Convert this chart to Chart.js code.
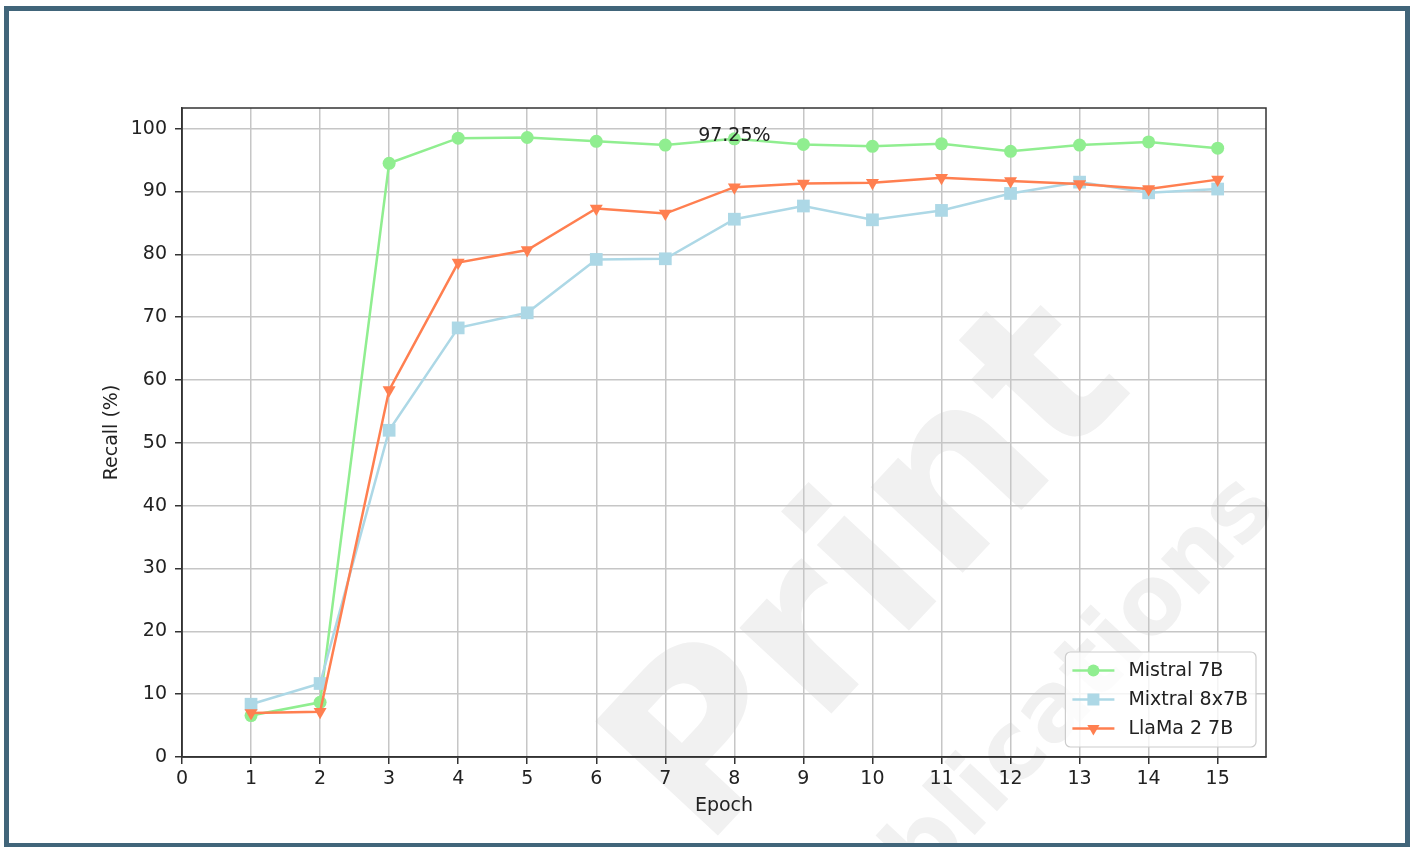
<!DOCTYPE html>
<html lang="en">
<head>
    <meta charset="UTF-8">
    <title>Recall per Epoch</title>
    <script src="https://cdn.jsdelivr.net/npm/chart.js"></script>
    <style>
        html, body { margin: 0; padding: 0; background: #fff; }
        body {
            width: 1413px;
            height: 847px;
            position: relative;
            overflow: hidden;
            font-family: 'DejaVu Sans', sans-serif;
        }
        /* faint publisher watermark behind the chart */
        .mark {
            position: absolute;
            transform: translate(-50%, -50%) rotate(-47deg);
            font-weight: bold;
            color: #f1f1f1;
            white-space: nowrap;
            line-height: 1;
        }
        #chartBox { position: absolute; left: 0; top: 0; }
        #frame {
            position: absolute;
            left: 4px;
            top: 6px;
            width: 1396px;
            height: 832px;
            border: 5px solid #41657a;
            pointer-events: none;
        }
    </style>
</head>
<body>
    <div class="mark" style="left:862px; top:565px; font-size:230px;">Print</div>
    <div class="mark" style="left:1030px; top:728px; font-size:95px;">Publications</div>
    <div id="chartBox">
        <canvas id="recallChart" width="1413" height="847"></canvas>
    </div>
    <div id="frame"></div>

    <script>
        const epochs = [1, 2, 3, 4, 5, 6, 7, 8, 9, 10, 11, 12, 13, 14, 15];
        const mistral = [6.6, 8.7, 94.5, 98.5, 98.6, 98.0, 97.4, 98.4, 97.5, 97.2, 97.6, 96.4, 97.4, 97.9, 96.9];
        const mixtral = [8.4, 11.7, 52.0, 68.3, 70.7, 79.2, 79.3, 85.6, 87.7, 85.5, 87.0, 89.7, 91.5, 89.8, 90.4];
        const llama = [7.0, 7.2, 58.4, 78.7, 80.7, 87.3, 86.5, 90.7, 91.3, 91.4, 92.2, 91.7, 91.2, 90.4, 91.9];
        const seriesNames = ['Mistral 7B', 'Mixtral 8x7B', 'LlaMa 2 7B'];
        const xTicks = [0, 1, 2, 3, 4, 5, 6, 7, 8, 9, 10, 11, 12, 13, 14, 15];
        const yTicks = [0, 10, 20, 30, 40, 50, 60, 70, 80, 90, 100];
        const noteText = '97.25%';
        const noteEpoch = 8;
        const noteValue = 97.25;

        const FONT = { family: "'DejaVu Sans', sans-serif", size: 19 };
        const TEXT = '#222';

        function toPoints(vals) {
            return epochs.map((e, i) => ({ x: e, y: vals[i] }));
        }

        // marker shapes shared by the legend
        function drawMarker(ctx, style, x, y, color) {
            ctx.save();
            ctx.fillStyle = color;
            ctx.beginPath();
            if (style === 'circle') {
                ctx.arc(x, y, 6, 0, Math.PI * 2);
            } else if (style === 'rect') {
                ctx.rect(x - 6, y - 6, 12, 12);
            } else {
                ctx.moveTo(x, y + 7);
                ctx.lineTo(x - 6.1, y - 3.5);
                ctx.lineTo(x + 6.1, y - 3.5);
                ctx.closePath();
            }
            ctx.fill();
            ctx.restore();
        }

        const framePlugin = {
            id: 'frame',
            afterDatasetsDraw(chart) {
                const a = chart.chartArea;
                const ctx = chart.ctx;
                ctx.save();
                ctx.strokeStyle = '#333';
                ctx.lineWidth = 1.5;
                ctx.strokeRect(a.left, a.top, a.right - a.left, a.bottom - a.top);
                ctx.restore();
            }
        };

        const notePlugin = {
            id: 'note',
            afterDraw(chart) {
                const ctx = chart.ctx;
                const x = chart.scales.x.getPixelForValue(noteEpoch);
                const y = chart.scales.y.getPixelForValue(noteValue);
                ctx.save();
                ctx.font = FONT.size + 'px ' + FONT.family;
                ctx.fillStyle = TEXT;
                ctx.textAlign = 'center';
                ctx.textBaseline = 'bottom';
                ctx.fillText(noteText, x, y);
                ctx.restore();
            }
        };

        // matplotlib-style legend in the lower right corner
        const legendPlugin = {
            id: 'boxLegend',
            afterDraw(chart) {
                const ctx = chart.ctx;
                const a = chart.chartArea;
                ctx.save();
                ctx.font = FONT.size + 'px ' + FONT.family;
                const textW = Math.max(...seriesNames.map(n => ctx.measureText(n).width));
                const rowH = 29;
                const w = 7 + 42 + 14 + textW + 8;
                const h = rowH * seriesNames.length + 8;
                const left = a.right - 10 - w;
                const top = a.bottom - 10 - h;

                ctx.fillStyle = 'rgba(255,255,255,0.8)';
                ctx.strokeStyle = '#cccccc';
                ctx.lineWidth = 1.2;
                ctx.beginPath();
                ctx.roundRect(left, top, w, h, 5);
                ctx.fill();
                ctx.stroke();

                chart.data.datasets.forEach((ds, i) => {
                    const cy = top + 4 + rowH * i + rowH / 2;
                    ctx.strokeStyle = ds.borderColor;
                    ctx.lineWidth = ds.borderWidth;
                    ctx.beginPath();
                    ctx.moveTo(left + 7, cy);
                    ctx.lineTo(left + 49, cy);
                    ctx.stroke();
                    drawMarker(ctx, ds.pointStyle, left + 28, cy, ds.borderColor);
                    ctx.fillStyle = TEXT;
                    ctx.textAlign = 'left';
                    ctx.textBaseline = 'middle';
                    ctx.fillText(seriesNames[i], left + 63, cy + 1);
                });
                ctx.restore();
            }
        };

        const ctx = document.getElementById('recallChart').getContext('2d');
        new Chart(ctx, {
            type: 'line',
            data: {
                datasets: [
                    {
                        label: seriesNames[0],
                        data: toPoints(mistral),
                        borderColor: '#90ee90',
                        backgroundColor: '#90ee90',
                        borderWidth: 2.5,
                        pointStyle: 'circle',
                        pointRadius: 6.5,
                        pointBorderWidth: 0,
                        order: 3
                    },
                    {
                        label: seriesNames[1],
                        data: toPoints(mixtral),
                        borderColor: '#add8e6',
                        backgroundColor: '#add8e6',
                        borderWidth: 2.5,
                        pointStyle: 'rect',
                        pointRadius: 9,
                        pointBorderWidth: 0,
                        order: 2
                    },
                    {
                        label: seriesNames[2],
                        data: toPoints(llama),
                        borderColor: '#ff7f50',
                        backgroundColor: '#ff7f50',
                        borderWidth: 2.5,
                        pointStyle: 'triangle',
                        pointRotation: 180,
                        pointRadius: 7.5,
                        pointBorderWidth: 0,
                        order: 1
                    }
                ]
            },
            options: {
                responsive: false,
                animation: false,
                layout: { padding: { left: 101, top: 108, right: 147, bottom: 30 } },
                plugins: {
                    legend: { display: false },
                    tooltip: { enabled: false }
                },
                scales: {
                    x: {
                        type: 'linear',
                        min: 0,
                        max: 15.7,
                        afterBuildTicks: s => { s.ticks = xTicks.map(v => ({ value: v })); },
                        afterFit: s => { s.height = 60; },
                        ticks: { font: FONT, color: TEXT, padding: 4, maxRotation: 0, autoSkip: false },
                        grid: { color: '#c6c6c6', lineWidth: 1.5, tickLength: 7, tickColor: '#333', tickWidth: 1.5 },
                        border: { display: true, color: '#333', width: 1.5 },
                        title: { display: true, text: 'Epoch', font: FONT, color: TEXT, padding: 0 }
                    },
                    y: {
                        min: 0,
                        max: 103.3,
                        afterBuildTicks: s => { s.ticks = yTicks.map(v => ({ value: v })); },
                        afterFit: s => { s.width = 81; },
                        ticks: { font: FONT, color: TEXT, padding: 8 },
                        grid: { color: '#c6c6c6', lineWidth: 1.5, tickLength: 7, tickColor: '#333', tickWidth: 1.5 },
                        border: { display: true, color: '#333', width: 1.5 },
                        title: { display: true, text: 'Recall (%)', font: FONT, color: TEXT, padding: 0 }
                    }
                }
            },
            plugins: [framePlugin, notePlugin, legendPlugin]
        });
    </script>
</body>
</html>
